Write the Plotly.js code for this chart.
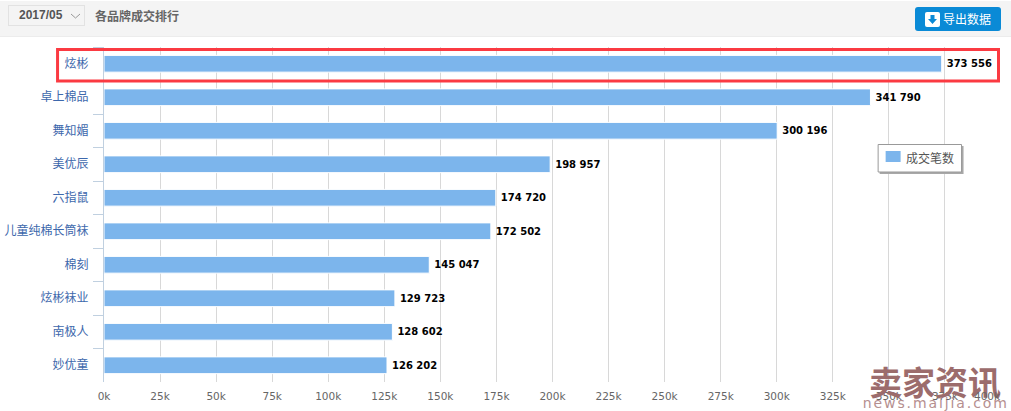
<!DOCTYPE html>
<html>
<head>
<meta charset="utf-8">
<script src="https://cdn.plot.ly/plotly-3.0.1.min.js"></script>
<style>
  html, body { margin: 0; padding: 0; background: #fff; overflow: hidden; }
  body { font-family: "Noto Sans CJK SC", sans-serif; }
  #chart { position: absolute; left: 0; top: 0; width: 1011px; height: 411px; }
  #header { position: absolute; left: 0; top: 1px; width: 1011px; height: 36px; background: #f4f4f4; border-bottom: 1px solid #ececec; box-sizing: border-box; }
  #month { position: absolute; left: 8px; top: 4px; width: 77px; height: 21px; box-sizing: border-box; border: 1px solid #e2e2e2; font: bold 12px/19px "Liberation Sans", sans-serif; color: #555; padding-left: 10px; }
  #month svg { position: absolute; left: 61px; top: 7px; }
  #heading { position: absolute; left: 95px; top: 4px; font-size: 12px; font-weight: bold; line-height: 21px; color: #666; }
  #export { position: absolute; left: 915px; top: 6px; width: 86px; height: 24px; border-radius: 3px; background: #0a8ad6; color: #fff; font-size: 12px; line-height: 24px; }
  #export svg { position: absolute; left: 10px; top: 5px; }
  #export span { position: absolute; left: 28px; top: 0; }
  /* the watermark url is spaced out in the original */
  .annotation[data-index="1"] text { letter-spacing: 1.9px; }
</style>
</head>
<body>
<div id="chart"></div>
<div id="header">
  <div id="month">2017/05<svg width="11" height="7"><path d="M1 1 L5.5 5 L10 1" fill="none" stroke="#999"/></svg></div>
  <div id="heading">各品牌成交排行</div>
  <div id="export">
    <svg width="15" height="15"><rect width="15" height="15" rx="2" fill="#fff"/><path d="M5.5 3 H9.5 V7 H12 L7.5 12 L3 7 H5.5 Z" fill="#0a8ad6"/></svg>
    <span>导出数据</span>
  </div>
</div>
<script>
(function () {
  "use strict";

  // chart values
  const brands = ["炫彬", "卓上棉品", "舞知媚", "美优辰", "六指鼠", "儿童纯棉长筒袜", "棉刻", "炫彬袜业", "南极人", "妙优童"];
  const deals = [373556, 341790, 300196, 198957, 174720, 172502, 145047, 129723, 128602, 126202];
  const seriesName = "成交笔数";
  const xTicks = [0, 25000, 50000, 75000, 100000, 125000, 150000, 175000, 200000, 225000, 250000, 275000, 300000, 325000, 350000, 375000, 400000];
  const xTickLabels = xTicks.map(v => (v / 1000) + "k");

  const W = 1011, H = 411;
  const margin = { l: 103.5, r: 9.5, t: 47, b: 29 };

  // pixel position -> paper fraction, for the page furniture
  function px(x) { return (x - margin.l) / (W - margin.l - margin.r); }
  function py(y) { return 1 - (y - margin.t) / (H - margin.t - margin.b); }

  // values are shown with a space as thousands separator
  function spaced(v) {
    return String(v).replace(/\B(?=(\d{3})+$)/g, " ");
  }

  const tickFont = { family: "DejaVu Sans", size: 10.5, color: "#666666" };

  const data = [{
    type: "bar",
    orientation: "h",
    name: seriesName,
    y: brands,
    x: deals,
    marker: { color: "#7cb5ec", line: { color: "#ffffff", width: 1 } },
    text: deals.map(spaced),
    textposition: "outside",
    cliponaxis: false,
    constraintext: "none",
    textfont: { family: "DejaVu Sans", size: 10, color: "#000000", weight: "bold" },
    hoverinfo: "skip",
    showlegend: false
  }];

  const layout = {
    width: W,
    height: H,
    margin: margin,
    paper_bgcolor: "#ffffff",
    plot_bgcolor: "#ffffff",
    bargap: 0.5,
    showlegend: false,
    xaxis: {
      range: [0, 400000],
      tickmode: "array",
      tickvals: xTicks,
      // the last label is pulled inside the page, see annotations
      ticktext: xTickLabels.map((t, i) => i === xTickLabels.length - 1 ? "" : t),
      showgrid: true,
      gridcolor: "#d8d8d8",
      gridwidth: 1,
      zeroline: false,
      showline: false,
      ticks: "",
      ticklabelstandoff: 6,
      tickfont: tickFont
    },
    yaxis: {
      type: "category",
      autorange: "reversed",
      showline: true,
      linecolor: "#c0d0e0",
      linewidth: 1,
      showgrid: false,
      zeroline: false,
      ticks: "outside",
      tickson: "boundaries",
      ticklen: 10,
      tickcolor: "#c0d0e0",
      ticklabelstandoff: 12,
      tickfont: { family: "Noto Sans CJK SC", size: 12, color: "#3d68ac" }
    },
    shapes: [
      // highlight box round the first brand
      { type: "rect", xref: "paper", yref: "paper", x0: px(57), x1: px(999), y0: py(49.5), y1: py(81), line: { color: "#fb3a42", width: 3 }, layer: "above" },
      // legend: drop shadow, box, swatch
      { type: "rect", xref: "paper", yref: "paper", x0: px(880), x1: px(964), y0: py(146), y1: py(174), fillcolor: "#a8a8a8", line: { width: 0 }, layer: "above" },
      { type: "rect", xref: "paper", yref: "paper", x0: px(878.5), x1: px(962), y0: py(144.5), y1: py(172), fillcolor: "#ffffff", line: { color: "#999999", width: 1 }, layer: "above" },
      { type: "rect", xref: "paper", yref: "paper", x0: px(886), x1: px(901), y0: py(151), y1: py(162), fillcolor: "#7cb5ec", line: { width: 0 }, layer: "above" }
    ],
    annotations: [
      { xref: "paper", yref: "paper", x: px(935), y: py(381), xanchor: "center", yanchor: "middle", text: "<b>卖家资讯</b>", showarrow: false, font: { family: "Noto Sans CJK SC", size: 33, color: "#9c6c6c" } },
      { xref: "paper", yref: "paper", x: px(936), y: py(403), xanchor: "center", yanchor: "middle", text: "news.maijia.com", showarrow: false, font: { family: "DejaVu Sans", size: 14, color: "#b58f8f" } },
      { xref: "paper", yref: "paper", x: px(988), y: py(396), xanchor: "center", yanchor: "middle", text: xTickLabels[xTickLabels.length - 1], showarrow: false, font: tickFont },
      { xref: "paper", yref: "paper", x: px(904), y: py(157), xanchor: "left", yanchor: "middle", text: seriesName, showarrow: false, font: { family: "Noto Sans CJK SC", size: 12, color: "#555555" } }
    ]
  };

  Plotly.newPlot("chart", data, layout, { displayModeBar: false, responsive: false }).then(function () {
    // data labels sit a little further from the bar ends than plotly's default
    document.querySelectorAll("#chart .bartext").forEach(function (t) {
      t.setAttribute("x", parseFloat(t.getAttribute("x") || 0) + 2);
    });
  });
})();
</script>
</body>
</html>
